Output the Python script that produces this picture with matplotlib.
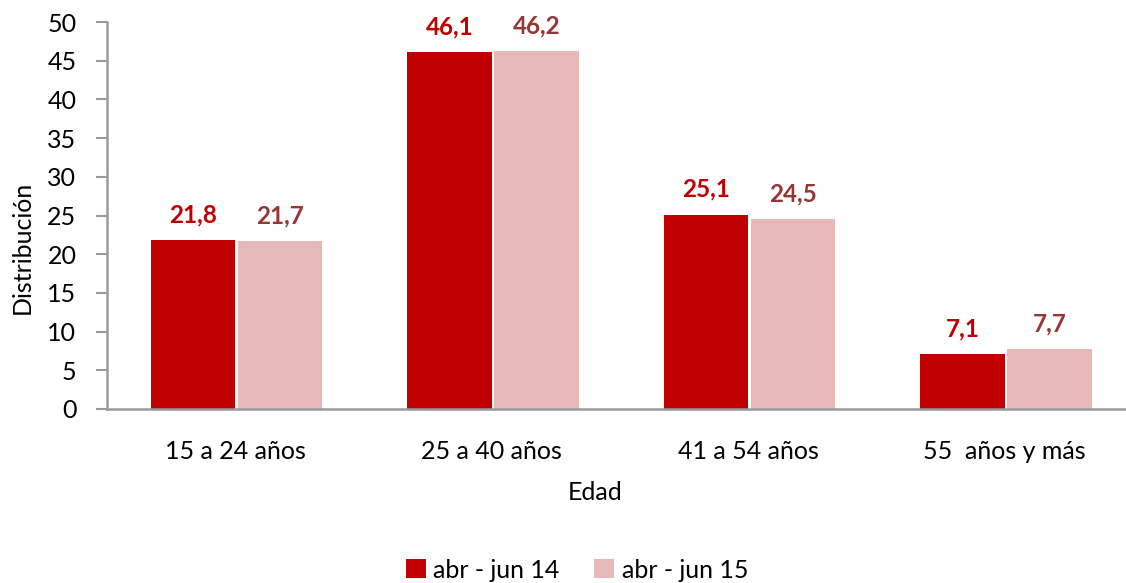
import numpy as np
import matplotlib.pyplot as plt

plt.rcParams["font.family"] = ["Lato", "DejaVu Sans"]

categories = ["15 a 24 años", "25 a 40 años", "41 a 54 años", "55  años y más"]
series_names = ["abr - jun 14", "abr - jun 15"]
values_14 = [21.8, 46.1, 25.1, 7.1]
values_15 = [21.7, 46.2, 24.5, 7.7]

bar_colors = ["#C00000", "#E6B9B8"]
label_colors = ["#C00000", "#953735"]
axis_gray = "#9A9A9A"

fig = plt.figure(figsize=(11.26, 5.83), dpi=100)
ax = fig.add_axes([107 / 1126, 174 / 583, 1026 / 1126, 387 / 583])

x = np.arange(len(categories))
w = 0.33
for i, vals in enumerate([values_14, values_15]):
    pos = x + (i - 0.5) * (w + 0.01) + 0.005
    bars = ax.bar(pos, vals, width=w, color=bar_colors[i], label=series_names[i])
    for b, v in zip(bars, vals):
        ax.annotate(f"{v:.1f}".replace(".", ","),
                    (b.get_x() + b.get_width() / 2, v),
                    xytext=(0, 10), textcoords="offset points",
                    ha="center", va="bottom", fontsize=17.5, fontweight="bold",
                    color=label_colors[i])

ax.set_xlim(-0.5, 3.5)
ax.set_ylim(0, 50)
ax.set_yticks(range(0, 51, 5))
ax.set_xticks(x)
ax.set_xticklabels(categories, fontsize=18)
ax.tick_params(axis="x", length=0, pad=22)
ax.tick_params(axis="y", length=8, width=1.5, color=axis_gray, labelsize=18, pad=14)

for s in ["top", "right"]:
    ax.spines[s].set_visible(False)
for s in ["left", "bottom"]:
    ax.spines[s].set_color(axis_gray)
    ax.spines[s].set_linewidth(1.8)

fig.text(595 / 1126, 1 - 493 / 583, "Edad", ha="center", va="center", fontsize=18)
fig.text(22 / 1126, 1 - 247 / 583, "Distribución", ha="center", va="center",
         rotation=90, fontsize=18)

fig.legend(loc="center", bbox_to_anchor=(577 / 1126, 1 - 570 / 583), ncol=2,
           frameon=False, fontsize=18, handlelength=0.8, handleheight=0.8,
           handletextpad=0.3, columnspacing=1.4)

fig.savefig("out.png", dpi=100)
